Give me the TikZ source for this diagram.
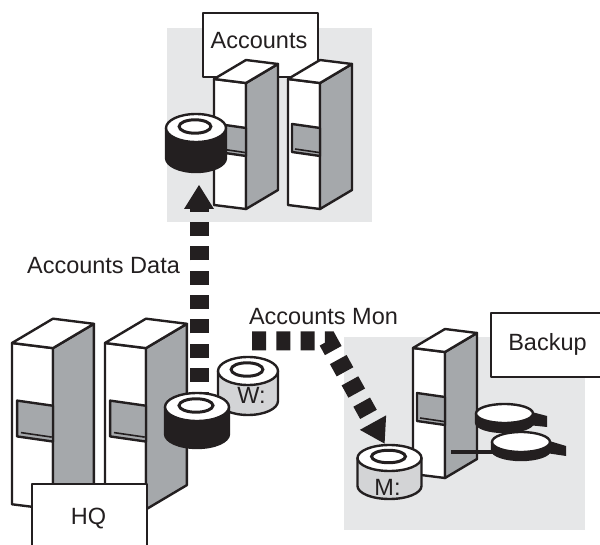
\documentclass[tikz,border=0pt]{standalone}
\usepackage{fontspec}
\setmainfont{Liberation Sans}
\usetikzlibrary{arrows.meta}

\definecolor{panel}{HTML}{E6E7E8}
\definecolor{rackside}{HTML}{A5A8AB}
\definecolor{diskgray}{HTML}{D3D4D6}
\definecolor{ink}{HTML}{231F20}

\tikzset{
  outline/.style={draw=ink, line width=2.4pt, line join=round},
  lbl/.style={font=\fontsize{23.5}{28}\selectfont, text=ink, inner sep=0pt},
  namebox/.style={outline, fill=white, inner sep=0pt},
  flow/.style={draw=ink, line width=19pt, dash pattern=on 14pt off 10.3pt,
    -{Triangle[length=24pt, width=30pt, sep=5pt, line width=0pt]}},
  % a server cabinet, origin at the top-left corner of its front face
  rack/.pic={
    \filldraw[outline, fill=white] (0,0) -- (32,4) -- (32,130) -- (0,126) -- cycle;
    \filldraw[outline, fill=rackside] (32,4) -- (64,-15) -- (64,111) -- (32,130) -- cycle;
    \filldraw[outline, fill=white] (0,0) -- (32,4) -- (64,-15) -- (32,-19) -- cycle;
    \filldraw[outline, fill=rackside] (4,45) -- (32,49) -- (32,77) -- (4,73) -- cycle;
    \draw[ink, line width=1.6pt] (7,70) -- (31,73.5);
  }
}

% disk: centre x, top centre y, x radius, y radius, height, body colour
\newcommand\drawdisk[6]{%
  \filldraw[outline, fill=#6] (#1-#3,#2) -- (#1-#3,#2+#5)
    arc[start angle=180, end angle=0, x radius=#3, y radius=#4] -- (#1+#3,#2) -- cycle;
  \filldraw[outline, fill=white] (#1,#2) ellipse[x radius=#3, y radius=#4];
  \filldraw[draw=ink, line width=3pt, fill=white] (#1-1,#2-1.5) ellipse[x radius=0.53*#3, y radius=0.48*#4];
}
% tape reel: centre x, top centre y, x radius, y radius, height
\newcommand\drawreel[5]{%
  \filldraw[outline, fill=ink] (#1-#3,#2) -- (#1-#3,#2+#5)
    arc[start angle=180, end angle=0, x radius=#3, y radius=#4] -- (#1+#3,#2) -- cycle;
  \filldraw[outline, fill=white] (#1,#2) ellipse[x radius=#3, y radius=#4];
}

\begin{document}
\begin{tikzpicture}[x=1pt, y=-1pt]
  \useasboundingbox (0,0) rectangle (600,545);
  \clip (0,0) rectangle (600,545);

  % Accounts site
  \fill[panel] (167,28) rectangle (372,222);
  \node[namebox, minimum width=115pt, minimum height=64pt, anchor=north west] (accbox) at (202,12) {};
  \pic at (214,79) {rack};
  \pic at (288,79) {rack};
  \drawdisk{196}{128}{30}{14}{30}{ink}

  % Backup site
  \fill[panel] (344,337) rectangle (585,530);
  \node[namebox, minimum width=120pt, minimum height=64pt, anchor=north west] (bkbox) at (490,312) {};
  \pic at (413,348) {rack};
  \coordinate (cablestart) at (451,452);
  \coordinate (cableend) at (494,452);
  \draw[ink, line width=4pt] (cablestart) -- (cableend);
  \fill[ink] (528,411) -- (547,416) -- (547,427) -- (528,425) -- cycle;
  \drawreel{504.5}{413.5}{28.5}{9.5}{9}
  \fill[ink] (546,440) -- (566,446) -- (566,456) -- (546,453) -- cycle;
  \drawreel{521}{442}{29}{10}{8}
  \drawdisk{389.5}{458}{32}{13}{28}{diskgray}

  % HQ site
  \drawdisk{248}{371}{30}{14}{30}{diskgray}
  \pic[scale=1.28] at (12,343) {rack};
  \pic[scale=1.28] at (105,343) {rack};
  \filldraw[outline, fill=white] (32,550) -- (32,484) -- (147,484) -- (147,550);

  % data flows
  \coordinate (hqport) at (199,406.3);
  \coordinate (acctport) at (199,180);
  \draw[flow] (hqport) -- (acctport);
  \coordinate (wport) at (252,341);
  \coordinate (bend) at (328,341);
  \coordinate (mport) at (387,448);
  \draw[flow] (wport) -- (bend) -- (mport);

  \drawdisk{197}{407}{32}{14}{27}{ink}

  % labels
  \node[lbl, anchor=base] (acctxt) at (259,48.5) {Accounts};
  \node[lbl, anchor=base] (bktxt) at (547.5,351) {Backup};
  \node[lbl, anchor=base] (hqtxt) at (88.5,524) {HQ};
  \node[lbl, anchor=base] (wtxt) at (251.5,403) {W:};
  \node[lbl, anchor=base] (mtxt) at (387.5,495) {M:};
  \node[lbl, anchor=base] (accdata) at (103.5,274) {Accounts Data};
  \node[lbl, anchor=base] (accmon) at (323.5,325) {Accounts Mon};
\end{tikzpicture}
\end{document}
